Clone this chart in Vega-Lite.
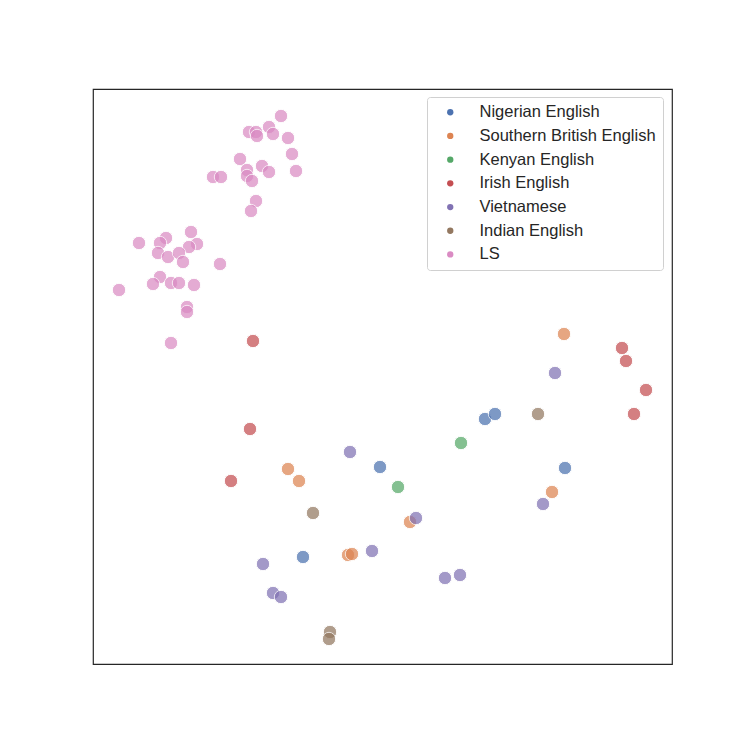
{
  "$schema": "https://vega.github.io/schema/vega-lite/v6.json",
  "width": 579,
  "height": 575,
  "autosize": {"type": "none"},
  "padding": {"left": 93, "top": 89, "right": 75, "bottom": 83},
  "background": "white",
  "config": {
    "view": {"stroke": "#262626", "strokeWidth": 1.2},
    "font": "Liberation Sans"
  },
  "data": {
    "values": [
      {"x": 281, "y": 116, "g": "LS"}, {"x": 249, "y": 132, "g": "LS"}, {"x": 256, "y": 132, "g": "LS"},
      {"x": 257, "y": 136, "g": "LS"}, {"x": 269, "y": 127, "g": "LS"}, {"x": 273, "y": 134, "g": "LS"},
      {"x": 288, "y": 138, "g": "LS"}, {"x": 292, "y": 154, "g": "LS"}, {"x": 296, "y": 171, "g": "LS"},
      {"x": 240, "y": 159, "g": "LS"}, {"x": 247, "y": 170, "g": "LS"}, {"x": 247, "y": 176, "g": "LS"},
      {"x": 252, "y": 181, "g": "LS"}, {"x": 262, "y": 166, "g": "LS"}, {"x": 269, "y": 172, "g": "LS"},
      {"x": 213, "y": 177, "g": "LS"}, {"x": 221, "y": 177, "g": "LS"}, {"x": 256, "y": 201, "g": "LS"},
      {"x": 251, "y": 211, "g": "LS"},
      {"x": 139, "y": 243, "g": "LS"}, {"x": 166, "y": 238, "g": "LS"}, {"x": 160, "y": 243, "g": "LS"},
      {"x": 191, "y": 232, "g": "LS"}, {"x": 197, "y": 244, "g": "LS"}, {"x": 189, "y": 247, "g": "LS"},
      {"x": 158, "y": 253, "g": "LS"}, {"x": 168, "y": 257, "g": "LS"}, {"x": 179, "y": 253, "g": "LS"},
      {"x": 183, "y": 262, "g": "LS"}, {"x": 220, "y": 264, "g": "LS"}, {"x": 160, "y": 277, "g": "LS"},
      {"x": 153, "y": 284, "g": "LS"}, {"x": 171, "y": 283, "g": "LS"}, {"x": 179, "y": 283, "g": "LS"},
      {"x": 194, "y": 285, "g": "LS"}, {"x": 119, "y": 290, "g": "LS"}, {"x": 187, "y": 307, "g": "LS"},
      {"x": 187, "y": 312, "g": "LS"}, {"x": 171, "y": 343, "g": "LS"},
      {"x": 253, "y": 341, "g": "Irish English"}, {"x": 250, "y": 429, "g": "Irish English"},
      {"x": 231, "y": 481, "g": "Irish English"}, {"x": 622, "y": 348, "g": "Irish English"},
      {"x": 626, "y": 361, "g": "Irish English"}, {"x": 646, "y": 390, "g": "Irish English"},
      {"x": 634, "y": 414, "g": "Irish English"},
      {"x": 288, "y": 469, "g": "Southern British English"}, {"x": 299, "y": 481, "g": "Southern British English"},
      {"x": 410, "y": 522, "g": "Southern British English"}, {"x": 348, "y": 555, "g": "Southern British English"},
      {"x": 352, "y": 554, "g": "Southern British English"}, {"x": 564, "y": 334, "g": "Southern British English"},
      {"x": 552, "y": 492, "g": "Southern British English"},
      {"x": 398, "y": 487, "g": "Kenyan English"}, {"x": 461, "y": 443, "g": "Kenyan English"},
      {"x": 380, "y": 467, "g": "Nigerian English"}, {"x": 303, "y": 557, "g": "Nigerian English"},
      {"x": 485, "y": 419, "g": "Nigerian English"}, {"x": 495, "y": 414, "g": "Nigerian English"},
      {"x": 565, "y": 468, "g": "Nigerian English"},
      {"x": 350, "y": 452, "g": "Vietnamese"}, {"x": 416, "y": 518, "g": "Vietnamese"},
      {"x": 372, "y": 551, "g": "Vietnamese"}, {"x": 263, "y": 564, "g": "Vietnamese"},
      {"x": 273, "y": 593, "g": "Vietnamese"}, {"x": 281, "y": 597, "g": "Vietnamese"},
      {"x": 445, "y": 578, "g": "Vietnamese"}, {"x": 460, "y": 575, "g": "Vietnamese"},
      {"x": 555, "y": 373, "g": "Vietnamese"}, {"x": 543, "y": 504, "g": "Vietnamese"},
      {"x": 313, "y": 513, "g": "Indian English"}, {"x": 330, "y": 632, "g": "Indian English"},
      {"x": 329, "y": 639, "g": "Indian English"}, {"x": 538, "y": 414, "g": "Indian English"}
    ]
  },
  "mark": {"type": "point", "filled": true, "opacity": 0.72, "stroke": "white", "strokeWidth": 1, "strokeOpacity": 1},
  "encoding": {
    "x": {"field": "x", "type": "quantitative", "scale": {"domain": [93, 672], "nice": false, "zero": false}, "axis": null},
    "y": {"field": "y", "type": "quantitative", "scale": {"domain": [664, 89], "nice": false, "zero": false}, "axis": null},
    "size": {"value": 180},
    "color": {
      "field": "g",
      "type": "nominal",
      "scale": {
        "domain": ["Nigerian English", "Southern British English", "Kenyan English", "Irish English", "Vietnamese", "Indian English", "LS"],
        "range": ["#4C72B0", "#DD8452", "#55A868", "#C44E52", "#8172B3", "#937860", "#DA8BC3"]
      },
      "legend": {
        "title": null,
        "orient": "none",
        "legendX": 334,
        "legendY": 8,
        "padding": 7,
        "strokeColor": "#d0d0d0",
        "fillColor": "white",
        "cornerRadius": 3,
        "labelFontSize": 16.5,
        "labelColor": "#262626",
        "labelFont": "Liberation Sans",
        "symbolOffset": 8,
        "labelOffset": 21,
        "symbolSize": 40,
        "symbolOpacity": 1,
        "symbolStrokeWidth": 0,
        "rowPadding": 6.7,
        "labelLimit": 300
      }
    }
  }
}
